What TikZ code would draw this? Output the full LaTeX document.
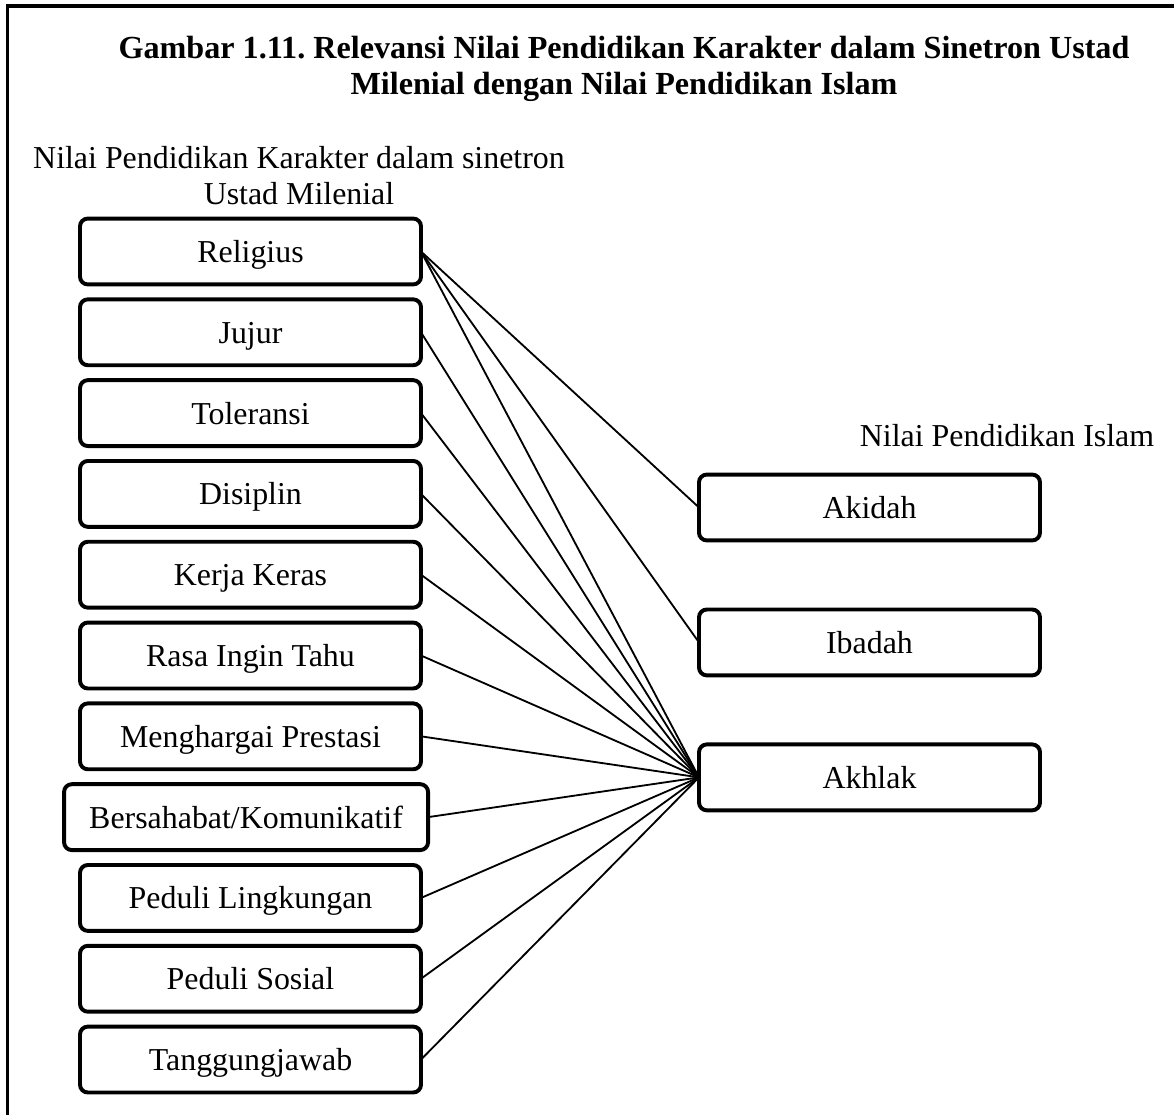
\documentclass[tikz,border=0pt]{standalone}
\usepackage{fontspec}
\setmainfont{Liberation Serif}
\usetikzlibrary{positioning}
\frenchspacing
\tikzset{
  base/.style={font=\fontsize{12.2}{14}\selectfont,align=center,rounded corners=3pt,draw=black,line width=1.5pt,fill=white,inner sep=2pt,outer sep=0pt,text height=9pt,text depth=0.6pt,minimum width=130.4pt,minimum height=25.2pt},
  value/.style={base},
  islam/.style={base},
  heading/.style={font=\bfseries\fontsize{12.3}{14}\selectfont,align=center},
  caption/.style={font=\fontsize{12.2}{13.8}\selectfont,align=center},
  link/.style={draw=black,line width=0.7pt},
  outerframe/.style={draw=black,line width=1.5pt}
}

\begin{document}
\begin{tikzpicture}[x=0.3824pt,y=-0.3824pt,node distance=5.7pt]
\useasboundingbox (0,0) rectangle (1174,1115);
\begin{scope}
\clip (0,0) rectangle (1174,1115);
\draw[outerframe] (7.5,6) rectangle (1200,1140);
\end{scope}

\node[heading] (title) at (624,69) {Gambar 1.11. Relevansi Nilai Pendidikan Karakter dalam Sinetron Ustad\\Milenial dengan Nilai Pendidikan Islam};
\node[caption] (leftlabel) at (299,176) {Nilai Pendidikan Karakter dalam sinetron\\Ustad Milenial};
\node[caption,anchor=base] (rightlabel) at (1007,447) {Nilai Pendidikan Islam};

\node[value] (religius) at (250.5,251.5) {Religius};
\node[value,below=of religius] (jujur) {Jujur};
\node[value,below=of jujur] (toleransi) {Toleransi};
\node[value,below=of toleransi] (disiplin) {Disiplin};
\node[value,below=of disiplin] (kerja) {Kerja Keras};
\node[value,below=of kerja] (rasa) {Rasa Ingin Tahu};
\node[value,below=of rasa] (menghargai) {Menghargai Prestasi};
\node[value,below=of menghargai,minimum width=139.2pt,xshift=-1.7pt] (bersahabat) {Bersahabat/Komunikatif};
\node[value,below=of bersahabat,xshift=1.7pt] (lingkungan) {Peduli Lingkungan};
\node[value,below=of lingkungan] (sosial) {Peduli Sosial};
\node[value,below=of sosial] (tanggungjawab) {Tanggungjawab};

\node[islam] (akidah) at (869.5,507.5) {Akidah};
\node[islam,below=26.4pt of akidah] (ibadah) {Ibadah};
\node[islam,below=26.4pt of ibadah] (akhlak) {Akhlak};

\draw[link] (religius.east) -- (akidah.west);
\draw[link] (religius.east) -- (ibadah.west);
\draw[link] (religius.east) -- (akhlak.west);
\draw[link] (jujur.east) -- (akhlak.west);
\draw[link] (toleransi.east) -- (akhlak.west);
\draw[link] (disiplin.east) -- (akhlak.west);
\draw[link] (kerja.east) -- (akhlak.west);
\draw[link] (rasa.east) -- (akhlak.west);
\draw[link] (menghargai.east) -- (akhlak.west);
\draw[link] (bersahabat.east) -- (akhlak.west);
\draw[link] (lingkungan.east) -- (akhlak.west);
\draw[link] (sosial.east) -- (akhlak.west);
\draw[link] (tanggungjawab.east) -- (akhlak.west);
\end{tikzpicture}
\end{document}
